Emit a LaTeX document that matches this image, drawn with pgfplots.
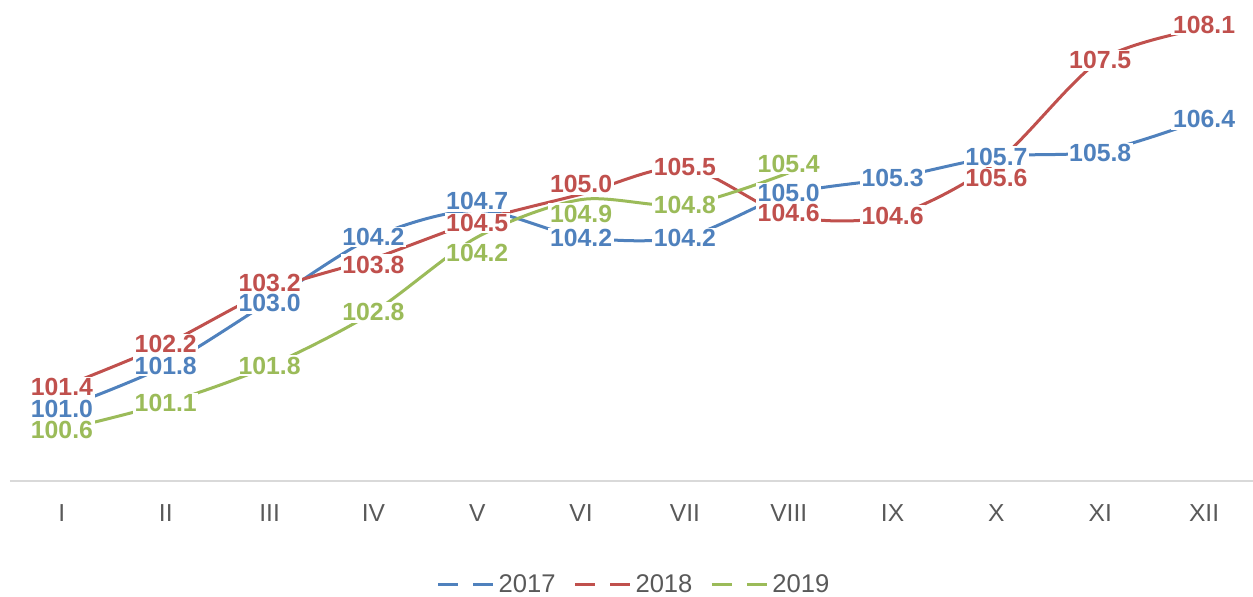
\documentclass[border=0pt]{standalone}
\usepackage{pgfplots}
\pgfplotsset{compat=1.18}
\usepackage{pgfplotstable}
\usepackage{fontspec}
\setmainfont{Liberation Sans}
\definecolor{c17}{HTML}{4F81BD}
\definecolor{c18}{HTML}{C0504D}
\definecolor{c19}{HTML}{9BBB59}
\definecolor{tickgray}{HTML}{595959}
\definecolor{axisgray}{HTML}{D9D9D9}
\pgfplotstableread{
x y dy
0 101.0 0
1 101.8 0
2 103.0 -1
3 104.2 0
4 104.7 4.5
5 104.2 -0.5
6 104.2 -0.5
7 105.0 0.5
8 105.3 0
9 105.7 0
10 105.8 -1
11 106.4 0
}\tseventeen
\pgfplotstableread{
x y dy
0 101.4 0
1 102.2 0
2 103.2 4
3 103.8 -3
4 104.5 -1
5 105.0 5
6 105.5 0
7 104.6 1.5
8 104.6 0
9 105.6 -8
10 107.5 0
11 108.1 1.5
}\teighteen
\pgfplotstableread{
x y dy
0 100.6 0
1 101.1 0
2 101.8 0
3 102.8 0
4 104.2 -8
5 104.9 -7
6 104.8 0
7 105.4 4.5
}\tnineteen
\begin{document}
\begin{tikzpicture}
\useasboundingbox (0,0) rectangle (626.5pt,298.5pt);
\begin{axis}[
  at={(5pt,58pt)}, anchor=south west,
  scale only axis, width=623pt, height=240.5pt,
  xmin=-0.5, xmax=11.5, ymin=99.65, ymax=108.624,
  clip=false,
  axis y line=none,
  axis x line*=bottom,
  x axis line style={draw=axisgray, line width=1pt, -},
  xtick={0,...,11},
  xticklabels={I,II,III,IV,V,VI,VII,VIII,IX,X,XI,XII},
  major tick length=0pt,
  ytick=\empty,
  xticklabel style={font=\fontsize{12.3}{14}\selectfont, text=tickgray, yshift=-8.5pt},
  legend columns=3,
  legend style={at={(0.5016,-0.216)}, anchor=center, draw=none, fill=none,
    font=\fontsize{12.8}{15}\selectfont, text=tickgray,
    /tikz/every even column/.append style={column sep=7pt}},
  legend image code/.code={\draw[#1, dash pattern=on 10pt off 7.5pt, line width=1.5pt] (0pt,0pt) -- (27.5pt,0pt);},
]
\pgfplotsset{
  lbl/.style={
    nodes near coords={\pgfmathprintnumber[fixed,fixed zerofill,precision=1,assume math mode=true]{\pgfplotspointmeta}},
    point meta=y,
    visualization depends on={\thisrow{dy} \as \dy},
    every node near coord/.append style={anchor=center, yshift=\dy*1pt, fill=white, inner sep=0.8pt,
      font=\bfseries\fontsize{12.4}{14}\selectfont},
  }
}
\addplot[c17, line width=1.5pt, smooth, tension=0.5, lbl] table[x=x,y=y] {\tseventeen};
\addlegendentry{2017}
\addplot[c18, line width=1.5pt, smooth, tension=0.5, lbl] table[x=x,y=y] {\teighteen};
\addlegendentry{2018}
\addplot[c19, line width=1.5pt, smooth, tension=0.5, lbl] table[x=x,y=y] {\tnineteen};
\addlegendentry{2019}
\end{axis}
\end{tikzpicture}
\end{document}
